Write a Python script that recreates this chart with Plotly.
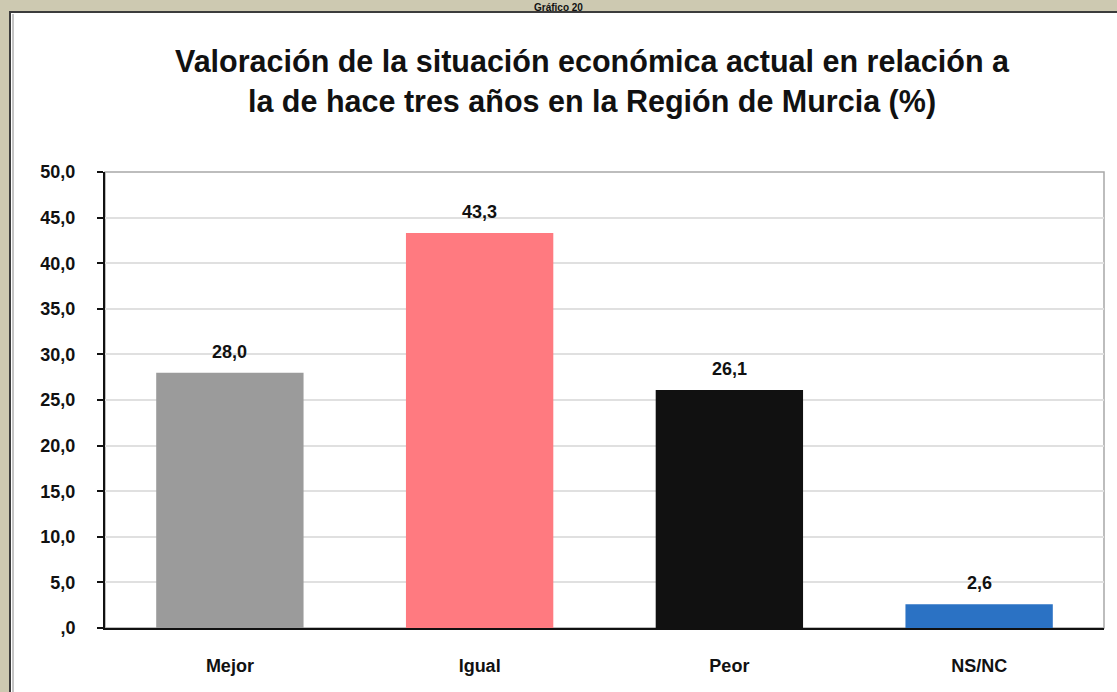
import plotly.graph_objects as go

categories = ["Mejor", "Igual", "Peor", "NS/NC"]
values = [28.0, 43.3, 26.1, 2.6]
bar_colors = ["#9b9b9b", "#ff7a80", "#111111", "#2b72c4"]
tick_vals = [0, 5, 10, 15, 20, 25, 30, 35, 40, 45, 50]
tick_text = [",0", "5,0", "10,0", "15,0", "20,0", "25,0", "30,0", "35,0", "40,0", "45,0", "50,0"]
title_text = "Valoración de la situación económica actual en relación a<br>la de hace tres años en la Región de Murcia (%)"
header_text = "Gráfico 20"

W, H = 1117, 692
L, R, T, B = 105, 13, 172, 64
pw = W - L - R
ph = H - T - B
FONT = "Liberation Sans, Arial"

def px_x(p):
    return (p - L) / pw

def px_y(p):
    return (H - B - p) / ph

fig = go.Figure()
fig.add_trace(go.Bar(
    x=categories, y=values, marker=dict(color=bar_colors, line=dict(width=0)),
    width=0.59, showlegend=False, hoverinfo="skip",
))

for c, v in zip(categories, values):
    fig.add_annotation(x=c, y=v, xref="x", yref="y",
                       text="<b>" + f"{v:.1f}".replace(".", ",") + "</b>",
                       showarrow=False, yanchor="bottom", yshift=9,
                       font=dict(family=FONT, size=18, color="#111111"))

# white frame box
fig.add_shape(type="rect", xref="paper", yref="paper",
              x0=px_x(10), x1=px_x(1125), y0=px_y(700), y1=px_y(12),
              fillcolor="white", line=dict(color="#3c3c3c", width=2), layer="below")
fig.add_shape(type="line", xref="paper", yref="paper",
              x0=px_x(13), x1=px_x(13), y0=px_y(700), y1=px_y(14),
              line=dict(color="#8a8a8a", width=1), layer="below")
# plot border
fig.add_shape(type="rect", xref="paper", yref="paper", x0=0, x1=1, y0=0, y1=1,
              line=dict(color="#a8a8a8", width=1.5), layer="below")

fig.add_annotation(text="<b>" + header_text + "</b>", xref="paper", yref="paper",
                   x=px_x(558), y=px_y(0), yanchor="top", showarrow=False,
                   font=dict(family=FONT, size=10, color="#111111"))

fig.add_annotation(text="<b>" + title_text + "</b>", xref="paper", yref="paper",
                   x=px_x(592), y=px_y(81), yanchor="middle", xanchor="center", showarrow=False,
                   font=dict(family=FONT, size=30.5, color="#111111"))

fig.update_layout(
    width=W, height=H,
    margin=dict(l=L, r=R, t=T, b=B, pad=0),
    paper_bgcolor="#cdc9b1", plot_bgcolor="rgba(0,0,0,0)",
    separators=",.",
    bargap=0.41,
    font=dict(family=FONT, color="#111111"),
)
fig.update_xaxes(showline=True, linecolor="#111111", linewidth=2, ticks="",
                 tickvals=categories, ticktext=["<b>" + c + "</b>" for c in categories],
                 tickfont=dict(size=18, family=FONT, color="#111111"),
                 ticklabelstandoff=20, showgrid=False)
fig.update_yaxes(range=[0, 50], tickvals=tick_vals, ticktext=["<b>" + t + "</b>" for t in tick_text],
                 showline=True, linecolor="#111111", linewidth=2,
                 ticks="outside", ticklen=6, tickcolor="#111111", tickwidth=2,
                 ticklabelstandoff=18,
                 tickfont=dict(size=18, family=FONT, color="#111111"),
                 showgrid=True, gridcolor="#e0e0e0", gridwidth=1.5, zeroline=False)

fig.write_html("out.html", config={"displayModeBar": False},
               post_script="document.body.style.margin='0';document.body.style.background='#cdc9b1';document.body.style.overflow='hidden';")
